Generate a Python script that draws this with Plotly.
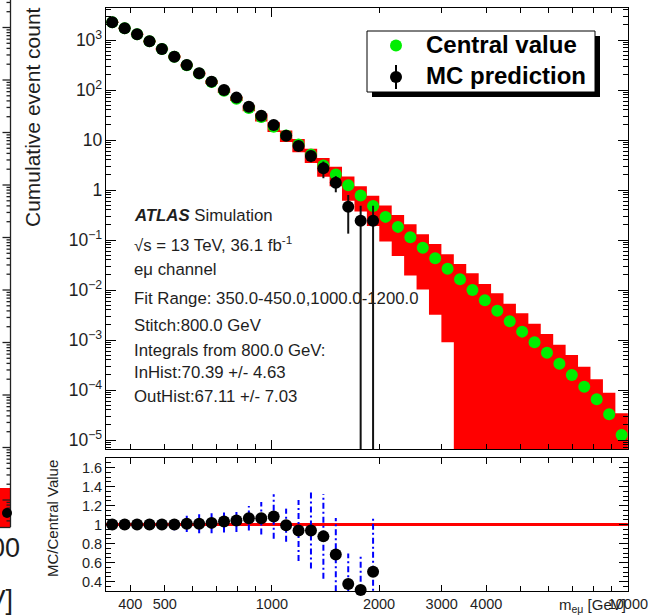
import numpy as np
import plotly.graph_objects as go

W, H = 648, 615

# ---------------- data ----------------
bin_edges = [342.0, 370.7, 401.7, 435.3, 471.7, 511.1, 553.9, 600.2, 650.4, 704.8,
             763.8, 827.7, 896.9, 971.9, 1053.4, 1141.4, 1236.9, 1340.4, 1452.5, 1574.0,
             1706.0, 1848.6, 2003.3, 2170.9, 2352.5, 2549.3, 2762.5, 2993.6, 3244.1, 3515.5,
             3810.0, 4128.0, 4474.0, 4848.0, 5254.0, 5693.0, 6170.0, 6686.0, 7245.0, 7852.0,
             8511.0, 9224.0, 10000.0]

central_value = [2259, 1714, 1300, 942, 661, 463, 314, 214, 144.5, 97,
                 67.1, 43.5, 28.7, 18.5, 12.3, 8.1, 5.1, 3.1, 2.05, 1.24,
                 0.78, 0.48, 0.29, 0.183, 0.1135, 0.0702, 0.0432, 0.0265, 0.01637, 0.0100,
                 0.00622, 0.00386, 0.00237, 0.00147, 0.00090, 0.000557, 0.000336, 0.000200, 0.000116, 6.5e-5,
                 3.27e-5, 1.26e-5]
central_err = [80, 70, 58, 48, 38, 30, 22, 17, 13, 10,
               7.03, 6.1, 5.2, 4.1, 3.2, 2.4, 1.62, 1.25, 0.86, 0.63,
               0.41, 0.29, 0.197, 0.135, 0.094, 0.060, 0.040, 0.0256, 0.0167, 0.0116,
               0.0070, 0.00473, 0.00295, 0.00195, 0.00122, 0.00076, 0.00047, 0.00030, 0.000176, 9.9e-5,
               5.56e-5, 2.16e-5]

mc_value = [2259, 1714, 1300, 942, 661, 463, 316, 216, 147, 100,
            70.4, 46.4, 30.6, 20.0, 12.2, 7.59, 4.79, 2.72, 1.40, 0.464,
            0.243, 0.243]
mc_err = [26, 23, 20, 17, 14, 12, 9.8, 8.1, 6.7, 5.5,
          4.63, 3.8, 3.0, 2.5, 1.9, 1.5, 1.2, 1.0, 0.5, 0.33,
          0.243, 0.243]

ratio_value = [1.0, 1.0, 1.0, 1.0, 1.0, 1.0, 1.007, 1.007, 1.017, 1.031,
               1.042, 1.066, 1.066, 1.084, 0.993, 0.937, 0.937, 0.875, 0.683, 0.374,
               0.31, 0.502]
ratio_err = [0.01, 0.02, 0.03, 0.04, 0.05, 0.06, 0.085, 0.10, 0.11, 0.115,
             0.12, 0.13, 0.17, 0.235, 0.174, 0.32, 0.40, 0.447, 0.386, 0.32,
             0.355, 0.59]

x_tick_vals = [400, 500, 1000, 2000, 3000, 4000, 10000]
x_tick_text = ["400", "500", "1000", "2000", "3000", "4000", "10000"]
x_minor_vals = [600, 700, 800, 900, 5000, 6000, 7000, 8000, 9000]

info_lines = [
    "<b><i>ATLAS</i></b> Simulation",
    "√s = 13 TeV, 36.1 fb<sup>-1</sup>",
    "eμ channel",
    "Fit Range: 350.0-450.0,1000.0-1200.0",
    "Stitch:800.0 GeV",
    "Integrals from 800.0 GeV:",
    "InHist:70.39 +/- 4.63",
    "OutHist:67.11 +/- 7.03",
]

# ---------------- helpers ----------------
FONT = "Liberation Sans, Arial, sans-serif"
TXT = "#1e1e1e"


def px(x):
    return x / W


def py(y):
    return 1 - y / H


edges = np.array(bin_edges)
centers = np.sqrt(edges[:-1] * edges[1:])
n = len(central_value)
cval = np.array(central_value)
cerr = np.array(central_err)
up = cval + cerr
lo = np.clip(cval - cerr, 1e-9, None)

band_x, band_y = [], []
for i in range(n):
    band_x += [edges[i], edges[i + 1]]
    band_y += [up[i], up[i]]
for i in reversed(range(n)):
    band_x += [edges[i + 1], edges[i]]
    band_y += [lo[i], lo[i]]

nm = len(mc_value)
bx, by = [], []
for i in range(len(ratio_value)):
    bx += [centers[i], centers[i], None]
    by += [ratio_value[i] - ratio_err[i], ratio_value[i] + ratio_err[i], None]

fig = go.Figure()

# top panel
fig.add_trace(go.Scatter(x=band_x, y=band_y, fill="toself", fillcolor="#ff0000",
                         line=dict(width=0, color="#ff0000"), mode="lines",
                         hoverinfo="skip", xaxis="x", yaxis="y"))
fig.add_trace(go.Scatter(x=centers[:n], y=central_value, mode="markers",
                         marker=dict(size=12, color="#00ee00"), xaxis="x", yaxis="y"))
fig.add_trace(go.Scatter(x=centers[:nm], y=mc_value, mode="markers",
                         marker=dict(size=12, color="black"),
                         error_y=dict(type="data", array=mc_err, color="#111111",
                                      thickness=2, width=0),
                         xaxis="x", yaxis="y"))

# ratio panel
fig.add_trace(go.Scatter(x=[bin_edges[0], bin_edges[-1]], y=[1, 1], mode="lines",
                         line=dict(color="#ff0000", width=3), xaxis="x2", yaxis="y2"))
fig.add_trace(go.Scatter(x=bx, y=by, mode="lines",
                         line=dict(color="#0000ff", width=2, dash="6px,3px,2px,3px"),
                         xaxis="x2", yaxis="y2", connectgaps=False))
fig.add_trace(go.Scatter(x=centers[:len(ratio_value)], y=ratio_value, mode="markers",
                         marker=dict(size=12, color="black"), cliponaxis=False,
                         xaxis="x2", yaxis="y2"))

# left strip: right-hand frame of the neighbouring (cropped) plot, in pixel units
LX = 10.5
dec_px = 52.5
sx, sy = [LX, LX, None], [0, 527, None]
for k in range(11):
    ymaj = 27.5 + dec_px * k
    if ymaj <= 527:
        sx += [LX - 8, LX, None]
        sy += [ymaj, ymaj, None]
    for d in range(2, 10):
        ym = ymaj - dec_px * np.log10(d)
        if 0 <= ym <= 527:
            sx += [LX - 4, LX, None]
            sy += [ym, ym, None]
sx += [0, LX, None]
sy += [527.5, 527.5, None]
fig.add_trace(go.Scatter(x=[0, 10, 10, 0, 0], y=[488, 488, 527, 527, 488], fill="toself",
                         fillcolor="#ff0000", mode="lines", line=dict(width=0),
                         xaxis="x3", yaxis="y3", hoverinfo="skip"))
fig.add_trace(go.Scatter(x=sx, y=sy, mode="lines", line=dict(color="#222222", width=1.3),
                         xaxis="x3", yaxis="y3", hoverinfo="skip", connectgaps=False))
fig.add_trace(go.Scatter(x=[7], y=[513], mode="markers", marker=dict(size=10, color="black"),
                         xaxis="x3", yaxis="y3", hoverinfo="skip"))

xr = [np.log10(bin_edges[0]), np.log10(bin_edges[-1]) + 0.0004]
top_dom = [py(449), py(8)]
bot_dom = [py(591), py(458)]
x_dom = [px(106), px(628)]

common_axis = dict(showline=True, linecolor="black", linewidth=1, mirror="allticks",
                   ticks="inside", tickcolor="black", showgrid=False, zeroline=False,
                   automargin=False)

fig.update_layout(
    width=W, height=H, autosize=False,
    margin=dict(l=0, r=0, t=0, b=0, pad=0, autoexpand=False),
    paper_bgcolor="white", plot_bgcolor="rgba(0,0,0,0)",
    showlegend=False, hovermode=False,
    font=dict(family=FONT, color=TXT),
    xaxis=dict(common_axis, type="log", range=xr, domain=x_dom, anchor="y",
               showticklabels=False, tickvals=[1000, 10000], ticklen=9,
               minor=dict(tickvals=[400, 500, 600, 700, 800, 900, 2000, 3000, 4000] + x_minor_vals[4:],
                          ticks="inside", ticklen=5, tickcolor="black")),
    yaxis=dict(common_axis, type="log", range=[-5.18, 3.64], domain=top_dom, anchor="x",
               dtick=1, exponentformat="power", ticklen=10,
               tickfont=dict(size=14, family=FONT, color=TXT),
               minor=dict(dtick="D1", ticks="inside", ticklen=5, tickcolor="black")),
    xaxis2=dict(common_axis, type="log", range=xr, domain=x_dom, anchor="y2",
                tickvals=x_tick_vals, ticktext=x_tick_text, ticklen=6,
                ticklabeloverflow="allow",
                tickfont=dict(size=14.5, family=FONT, color=TXT),
                minor=dict(tickvals=x_minor_vals, ticks="inside", ticklen=5, tickcolor="black")),
    yaxis2=dict(common_axis, range=[0.3, 1.7], domain=bot_dom, anchor="x2",
                tick0=0.4, dtick=0.2, ticklen=9,
                tickfont=dict(size=14.5, family=FONT, color=TXT),
                minor=dict(dtick=0.05, ticks="inside", ticklen=5, tickcolor="black")),
    xaxis3=dict(domain=[0, px(14)], range=[0, 14], visible=False, anchor="y3",
                fixedrange=True),
    yaxis3=dict(domain=[0, 1], range=[615, 0], visible=False, anchor="x3",
                fixedrange=True),
)

shapes = []
# legend shadow and box
shapes.append(dict(type="rect", xref="paper", yref="paper", x0=px(372), x1=px(600),
                   y0=py(97), y1=py(36), fillcolor="black", line=dict(width=0), layer="above"))
shapes.append(dict(type="rect", xref="paper", yref="paper", x0=px(367), x1=px(595),
                   y0=py(92), y1=py(31), fillcolor="white", line=dict(color="black", width=1),
                   layer="above"))
shapes.append(dict(type="circle", xref="paper", yref="paper", x0=px(390), x1=px(402),
                   y0=py(51.5), y1=py(39.5), fillcolor="#00ee00", line=dict(width=0), layer="above"))
shapes.append(dict(type="line", xref="paper", yref="paper", x0=px(396), x1=px(396),
                   y0=py(89), y1=py(65), line=dict(color="black", width=2), layer="above"))
shapes.append(dict(type="circle", xref="paper", yref="paper", x0=px(390), x1=px(402),
                   y0=py(83), y1=py(71), fillcolor="black", line=dict(width=0), layer="above"))
fig.update_layout(shapes=shapes)

ann = []
ann.append(dict(text="Central value", x=px(424), y=py(45), xref="paper", yref="paper",
                xanchor="left", yanchor="middle", showarrow=False,
                font=dict(size=24, family=FONT, color="black", weight="bold")))
ann.append(dict(text="MC prediction", x=px(424), y=py(76), xref="paper", yref="paper",
                xanchor="left", yanchor="middle", showarrow=False,
                font=dict(size=24, family=FONT, color="black", weight="bold")))

info_y = [215, 244, 270, 298, 326, 350, 373, 396]
for t, yy in zip(info_lines, info_y):
    ann.append(dict(text=t, x=px(132), y=py(yy), xref="paper", yref="paper",
                    xanchor="left", yanchor="middle", showarrow=False,
                    font=dict(size=16.8, family=FONT, color=TXT)))

ann.append(dict(text="Cumulative event count", x=px(33), y=py(117), xref="paper", yref="paper",
                textangle=-90, xanchor="center", yanchor="middle", showarrow=False,
                font=dict(size=21, family=FONT, color=TXT)))
ann.append(dict(text="MC/Central Value", x=px(52), y=py(519), xref="paper", yref="paper",
                textangle=-90, xanchor="center", yanchor="middle", showarrow=False,
                font=dict(size=15, family=FONT, color=TXT)))
ann.append(dict(text="m<sub>eμ</sub> [GeV]", x=px(628), y=py(605), xref="paper", yref="paper",
                xanchor="right", yanchor="middle", showarrow=False,
                font=dict(size=15, family=FONT, color=TXT)))
ann.append(dict(text="1000", x=px(22), y=py(548), xref="paper", yref="paper",
                xanchor="right", yanchor="middle", showarrow=False,
                font=dict(size=27, family=FONT, color=TXT)))
ann.append(dict(text="[GeV]", x=px(15), y=py(600), xref="paper", yref="paper",
                xanchor="right", yanchor="middle", showarrow=False,
                font=dict(size=27, family=FONT, color=TXT)))
fig.update_layout(annotations=ann)

fig.write_html("out.html")
